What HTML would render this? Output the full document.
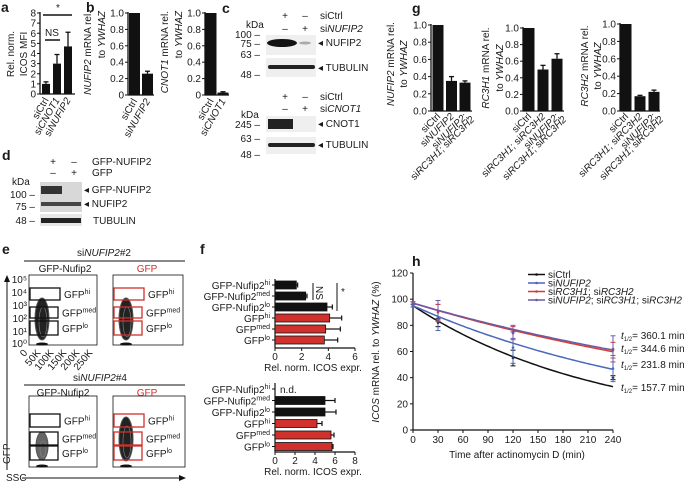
<!DOCTYPE html>
<html><head><meta charset="utf-8"><style>
html,body{margin:0;padding:0;background:#fff;width:684px;height:484px;overflow:hidden}
svg{font-family:"Liberation Sans",sans-serif;display:block}
text{font-size:10px;fill:#1a1a1a}
.pl{font-size:14px;font-weight:bold}
.r{fill:#d0312d}
</style></head><body>
<svg id="fig" width="684" height="484" viewBox="0 0 684 484" xmlns="http://www.w3.org/2000/svg">
<g id="static">
<text class="pl" x="1" y="12">a</text>
<text class="pl" x="86" y="12">b</text>
<text class="pl" x="222" y="13">c</text>
<text class="pl" x="2" y="160">d</text>
<text class="pl" x="2" y="254">e</text>
<text class="pl" x="200" y="254">f</text>
<text class="pl" x="412" y="13">g</text>
<text class="pl" x="412" y="266">h</text>

<g>
<text x="285" y="19" text-anchor="middle">+</text><text x="305" y="19" text-anchor="middle">–</text>
<text x="285" y="32" text-anchor="middle">–</text><text x="305" y="32" text-anchor="middle">+</text>
<text x="320" y="19">siCtrl</text><text x="320" y="32">si<tspan font-style="italic">NUFIP2</tspan></text>
<text x="246" y="28">kDa</text>
<text x="260" y="38" text-anchor="end">100 –</text><text x="260" y="47" text-anchor="end">75 –</text>
<text x="260" y="58" text-anchor="end">63 –</text><text x="260" y="78" text-anchor="end">48 –</text>
<rect x="266" y="35" width="50" height="20" fill="#efefef"/>
<ellipse cx="282" cy="43" rx="15" ry="4" fill="#111"/>
<ellipse cx="305" cy="43" rx="6" ry="1.5" fill="#aaa"/>
<rect x="266" y="58" width="50" height="19" fill="#efefef"/>
<rect x="268" y="65" width="47" height="4" rx="2" fill="#222"/>
<text x="318" y="46">◂ NUFIP2</text><text x="318" y="71">◂ TUBULIN</text>
</g>
<g>
<text x="285" y="100" text-anchor="middle">+</text><text x="305" y="100" text-anchor="middle">–</text>
<text x="285" y="112" text-anchor="middle">–</text><text x="305" y="112" text-anchor="middle">+</text>
<text x="320" y="100">siCtrl</text><text x="320" y="112">si<tspan font-style="italic">CNOT1</tspan></text>
<text x="241" y="118">kDa</text>
<text x="260" y="128" text-anchor="end">245 –</text><text x="260" y="142" text-anchor="end">63 –</text><text x="260" y="158" text-anchor="end">48 –</text>
<rect x="266" y="116" width="50" height="16" fill="#efefef"/>
<rect x="268" y="119" width="25" height="10" fill="#222"/>
<rect x="266" y="137" width="50" height="17" fill="#efefef"/>
<rect x="268" y="143" width="47" height="4" rx="2" fill="#222"/>
<text x="318" y="127">◂ CNOT1</text><text x="318" y="148">◂ TUBULIN</text>
</g>
<g>
<text x="53" y="165" text-anchor="middle">+</text><text x="74" y="165" text-anchor="middle">–</text>
<text x="53" y="176" text-anchor="middle">–</text><text x="74" y="176" text-anchor="middle">+</text>
<text x="92" y="165">GFP-NUFIP2</text><text x="92" y="176">GFP</text>
<text x="12" y="185">kDa</text>
<text x="35" y="198" text-anchor="end">100 –</text><text x="35" y="210" text-anchor="end">75 –</text><text x="35" y="224" text-anchor="end">48 –</text>
<rect x="40" y="182" width="42" height="30" fill="#d8d8d8"/>
<rect x="41" y="186" width="21" height="8" fill="#333"/>
<rect x="41" y="202" width="40" height="4" fill="#444"/>
<rect x="40" y="214" width="42" height="12" fill="#e6e6e6"/>
<rect x="41" y="218" width="40" height="5" fill="#222"/>
<text x="84" y="193">◂ GFP-NUFIP2</text><text x="84" y="207">◂ NUFIP2</text><text x="93" y="224">TUBULIN</text>
</g>

<g>
<text x="104" y="256" text-anchor="middle">si<tspan font-style="italic">NUFIP2</tspan>#2</text>
<line x1="24" y1="261" x2="185" y2="261" stroke="#111"/>
<text x="65" y="272" text-anchor="middle">GFP-Nufip2</text><text x="147" y="272" text-anchor="middle" class="r">GFP</text>
<text x="100" y="381" text-anchor="middle">si<tspan font-style="italic">NUFIP2</tspan>#4</text>
<line x1="24" y1="385" x2="185" y2="385" stroke="#111"/>
<text x="63" y="396" text-anchor="middle">GFP-Nufip2</text><text x="147" y="396" text-anchor="middle" class="r">GFP</text>
<line x1="7" y1="470" x2="7" y2="280" stroke="#111"/>
<path d="M4,282 L7,275 L10,282Z" fill="#111"/>
<line x1="22" y1="478" x2="180" y2="478" stroke="#111"/>
<path d="M179,475 L186,478 L179,481Z" fill="#111"/>
<text x="6" y="481">SSC</text>
<text transform="translate(10,464) rotate(-90)">GFP</text>
<text x="28" y="353" font-size="8.5" transform="rotate(-50,28,353)" text-anchor="end">0</text>
<text x="41" y="353" font-size="8.5" transform="rotate(-50,41,353)" text-anchor="end">50K</text>
<text x="54" y="353" font-size="8.5" transform="rotate(-50,54,353)" text-anchor="end">100K</text>
<text x="67" y="353" font-size="8.5" transform="rotate(-50,67,353)" text-anchor="end">150K</text>
<text x="80" y="353" font-size="8.5" transform="rotate(-50,80,353)" text-anchor="end">200K</text>
<text x="93" y="353" font-size="8.5" transform="rotate(-50,93,353)" text-anchor="end">250K</text>
<text x="27" y="283" font-size="8.5" text-anchor="end">10⁵</text>
<text x="27" y="296" font-size="8.5" text-anchor="end">10⁴</text>
<text x="27" y="309" font-size="8.5" text-anchor="end">10³</text>
<text x="27" y="322" font-size="8.5" text-anchor="end">10²</text>
<text x="27" y="335" font-size="8.5" text-anchor="end">10¹</text>
<text x="27" y="347" font-size="8.5" text-anchor="end">10⁰</text>
</g>
<g id="flowplots"></g>

<g>
<line x1="313" y1="283" x2="313" y2="300" stroke="#111"/>
<text transform="translate(316,286) rotate(90)" font-size="9">NS</text>
<line x1="337" y1="283" x2="337" y2="311" stroke="#111"/>
<text x="341" y="295" font-size="9">*</text>
<text x="280" y="393" font-size="10">n.d.</text>
</g>
<g id="charts"></g>
</g>
</svg>
<script>
const SVGNS="http://www.w3.org/2000/svg";
const charts=document.getElementById('charts');
function mk(tag,attrs,parent){const e=document.createElementNS(SVGNS,tag);for(const k in attrs)e.setAttribute(k,attrs[k]);(parent||charts).appendChild(e);return e;}
function txt(x,y,s,attrs,parent){const t=mk('text',Object.assign({x:x,y:y},attrs||{}),parent);t.innerHTML=s;return t;}

// ---------- data ----------
const aCats=['siCtrl','si<tspan font-style="italic">CNOT1</tspan>','si<tspan font-style="italic">NUFIP2</tspan>'];
const aVals=[1.0,3.0,4.7];
const aErr=[0.2,0.9,1.4];
const aTicks=[0,1,2,3,4,5,6,7,8];
const b1Cats=['siCtrl','si<tspan font-style="italic">NUFIP2</tspan>'];
const b1Vals=[1.0,0.26];
const b1Err=[0,0.03];
const b2Cats=['siCtrl','si<tspan font-style="italic">CNOT1</tspan>'];
const b2Vals=[1.0,0.03];
const b2Err=[0,0.01];
const bTicks=['0','0.2','0.4','0.6','0.8','1.0'];
const gTicks=['0.0','0.2','0.4','0.6','0.8','1.0'];
const g1Cats=['siCtrl','si<tspan font-style="italic">NUFIP2</tspan>','si<tspan font-style="italic">NUFIP2</tspan>;'];
const g1Vals=[1.0,0.35,0.33];
const g1Err=[0,0.05,0.02];
const g2Cats=['siCtrl','si<tspan font-style="italic">RC3H1</tspan>; si<tspan font-style="italic">RC3H2</tspan>','si<tspan font-style="italic">NUFIP2</tspan>;'];
const g2Vals=[1.0,0.50,0.63];
const g2Err=[0,0.05,0.06];
const g3Cats=['siCtrl','si<tspan font-style="italic">RC3H1</tspan>; si<tspan font-style="italic">RC3H2</tspan>','si<tspan font-style="italic">NUFIP2</tspan>;'];
const g3Vals=[1.0,0.17,0.22];
const g3Err=[0,0.01,0.02];
const fCats=['GFP-Nufip2<tspan dy="-4" font-size="7">hi</tspan>','GFP-Nufip2<tspan dy="-4" font-size="7">med</tspan>','GFP-Nufip2<tspan dy="-4" font-size="7">lo</tspan>','GFP<tspan dy="-4" font-size="7">hi</tspan>','GFP<tspan dy="-4" font-size="7">med</tspan>','GFP<tspan dy="-4" font-size="7">lo</tspan>'];
const f1Vals=[1.6,2.3,3.9,4.1,3.8,3.7];
const f1Err=[0.1,0.1,0.4,0.9,1.1,1.0];
const f2Vals=[null,5.0,5.0,4.2,5.6,5.7];
const f2Err=[0,1.0,1.1,0.5,0.3,0.1];
const hTimes=[0,30,120,240];
const hXTicks=[0,30,60,90,120,150,180,210,240];
const hYTicks=[0,20,40,60,80,100,120];
const hNames=['siCtrl','si<tspan font-style="italic">NUFIP2</tspan>','si<tspan font-style="italic">RC3H1</tspan>; si<tspan font-style="italic">RC3H2</tspan>','si<tspan font-style="italic">NUFIP2</tspan>; si<tspan font-style="italic">RC3H1</tspan>; si<tspan font-style="italic">RC3H2</tspan>'];
const hHalf=[157.7,231.8,344.6,360.1];
const hStart=[95,95,97,97];
const hMeanCtrl=[95,82,55,40];
const hErrCtrl=[1,3,6,1.5];
const hMeanNufip=[95,86,63,47];
const hErrNufip=[1,10,12,10];
const hMeanRc=[97,90,74,61];
const hErrRc=[1,6,5,6];
const hMeanTri=[97,91,75,62];
const hErrTri=[1,8,5,10];
const hColors=['#111','#4a67bd','#d63a34','#6a5aa6'];

// ---------- vertical bar chart ----------
function vbar(opt){
  const g=mk('g',{});
  
  
  const y=v=>opt.y0-(v-opt.min)/(opt.max-opt.min)*(opt.y0-opt.y1);
  mk('line',{x1:opt.ax,y1:opt.y1-1,x2:opt.ax,y2:opt.y0,stroke:'#111','stroke-width':1.3},g);
  mk('line',{x1:opt.ax,y1:opt.y0,x2:opt.xend,y2:opt.y0,stroke:'#111','stroke-width':1.3},g);
  opt.ticks.forEach((t,i)=>{
    const v=opt.min+i*(opt.max-opt.min)/(opt.ticks.length-1);
    mk('line',{x1:opt.ax-3,y1:y(v),x2:opt.ax,y2:y(v),stroke:'#111'},g);
    const tl=txt(opt.ax-4,y(v)+3.5,t,{'text-anchor':'end','font-size':10.5},g);
    
    
  });
  opt.vals.forEach((v,i)=>{
    const cx=opt.x0+i*opt.step;
    const r=mk('rect',{x:cx-opt.w/2,y:y(v),width:opt.w,height:opt.y0-y(v),fill:'#111'},g);
    
    
    if(opt.err[i]>0){
      mk('line',{x1:cx,y1:y(v),x2:cx,y2:y(v+opt.err[i]),stroke:'#111','stroke-width':1.3},g);
      mk('line',{x1:cx-2.5,y1:y(v+opt.err[i]),x2:cx+2.5,y2:y(v+opt.err[i]),stroke:'#111','stroke-width':1.3},g);
    }
    const lx=cx+3, ly=opt.y0+6;
    const t=txt(lx,ly,opt.cats[i],{'text-anchor':'end','font-size':10,transform:'rotate('+opt.rot+','+lx+','+ly+')'},g);
    
    
  });
  opt.ylab.forEach((s,i)=>{
    const t=txt(0,0,s,{'text-anchor':opt.top?'end':'middle',transform:'translate('+opt.ylx[i]+','+opt.yly+') rotate(-90)','font-size':10.5},g);
    
    
  });
  return g;
}
vbar({name:'chart-a',ax:40,y0:94,y1:13,min:0,max:8,ticks:aTicks.map(String),vals:aVals,err:aErr,cats:aCats,x0:46,step:11,w:8,xend:75,rot:-60,ylab:['Rel. norm.','ICOS MFI'],ylx:[14,27],yly:54});
vbar({name:'chart-b-nufip2',ax:128,y0:95,y1:13,min:0,max:1,ticks:bTicks,vals:b1Vals,err:b1Err,cats:b1Cats,x0:134.5,step:13,w:11,xend:154,rot:-60,top:true,ylab:['<tspan font-style="italic">NUFIP2</tspan> mRNA rel.','to <tspan font-style="italic">YWHAZ</tspan>'],ylx:[91,105],yly:11});
vbar({name:'chart-b-cnot1',ax:205,y0:95,y1:13,min:0,max:1,ticks:bTicks,vals:b2Vals,err:b2Err,cats:b2Cats,x0:211,step:12,w:11,xend:229,rot:-60,top:true,ylab:['<tspan font-style="italic">CNOT1</tspan> mRNA rel.','to <tspan font-style="italic">YWHAZ</tspan>'],ylx:[168,182],yly:11});
vbar({name:'chart-g-nufip2',ax:431,y0:111,y1:25,min:0,max:1,ticks:gTicks,vals:g1Vals,err:g1Err,cats:g1Cats,x0:438,step:13.5,w:11,xend:472,rot:-45,ylab:['<tspan font-style="italic">NUFIP2</tspan> mRNA rel.','to <tspan font-style="italic">YWHAZ</tspan>'],ylx:[394,407],yly:64});
vbar({name:'chart-g-rc3h1',ax:523,y0:111,y1:28,min:0,max:1,ticks:gTicks,vals:g2Vals,err:g2Err,cats:g2Cats,x0:529,step:14,w:11,xend:564,rot:-45,ylab:['<tspan font-style="italic">RC3H1</tspan> mRNA rel.','to <tspan font-style="italic">YWHAZ</tspan>'],ylx:[489,503],yly:68});
vbar({name:'chart-g-rc3h2',ax:620,y0:111,y1:24,min:0,max:1,ticks:gTicks,vals:g3Vals,err:g3Err,cats:g3Cats,x0:626,step:14,w:11,xend:660,rot:-45,ylab:['<tspan font-style="italic">RC3H2</tspan> mRNA rel.','to <tspan font-style="italic">YWHAZ</tspan>'],ylx:[588,601],yly:66});
[[465,'si<tspan font-style="italic">RC3H1</tspan>; si<tspan font-style="italic">RC3H2</tspan>'],[557,'si<tspan font-style="italic">RC3H1</tspan>; si<tspan font-style="italic">RC3H2</tspan>'],[654,'si<tspan font-style="italic">RC3H1</tspan>; si<tspan font-style="italic">RC3H2</tspan>']].forEach(p=>{
  const lx=p[0]+10, ly=120;
  const t=txt(lx,ly,p[1],{'text-anchor':'end','font-size':10,transform:'rotate(-45,'+lx+','+ly+')'});
  
  
});
mk('line',{x1:43,y1:15,x2:72,y2:15,stroke:'#111','stroke-width':1.5});
txt(58,11,'*',{'text-anchor':'middle'});
mk('line',{x1:45,y1:40,x2:60,y2:40,stroke:'#111','stroke-width':1.5});
txt(52,36,'NS',{'text-anchor':'middle','font-size':10.5});

// ---------- horizontal bar charts (f) ----------
function hbar(opt){
  const g=mk('g',{});
  
  
  const x=v=>opt.ax+v/opt.max*opt.len;
  mk('line',{x1:opt.ax,y1:opt.yTop,x2:opt.ax,y2:opt.yAxis,stroke:'#111','stroke-width':1.2},g);
  mk('line',{x1:opt.ax,y1:opt.yAxis,x2:opt.ax+opt.len,y2:opt.yAxis,stroke:'#111','stroke-width':1.2},g);
  opt.ticks.forEach(t=>{
    mk('line',{x1:x(t),y1:opt.yAxis,x2:x(t),y2:opt.yAxis+3,stroke:'#111'},g);
    const tl=txt(x(t),opt.yAxis+12,String(t),{'text-anchor':'middle','font-size':10.5},g);
    
    
  });
  const tt=txt(opt.ax+opt.len/2-2,opt.yAxis+23,'Rel. norm. ICOS expr.',{'text-anchor':'middle','font-size':10.5},g);
  
  
  opt.vals.forEach((v,i)=>{
    const cy=opt.y0+i*opt.step;
    const red=i>=3;
    mk('line',{x1:opt.ax-3,y1:cy,x2:opt.ax,y2:cy,stroke:'#111'},g);
    const lb=txt(opt.ax-5,cy+4,fCats[i],{'text-anchor':'end','font-size':11,fill:red?'#d0312d':'#1a1a1a'},g);
    
    
    if(v===null)return;
    const r=mk('rect',{x:opt.ax,y:cy-4,width:x(v)-opt.ax,height:8,fill:red?'#d0312d':'#111',stroke:'#111','stroke-width':0.8},g);
    
    
    mk('line',{x1:x(v),y1:cy,x2:x(v+opt.err[i]),y2:cy,stroke:'#111','stroke-width':1.2},g);
    mk('line',{x1:x(v+opt.err[i]),y1:cy-2.5,x2:x(v+opt.err[i]),y2:cy+2.5,stroke:'#111','stroke-width':1.2},g);
  });
}
hbar({name:'chart-f-top',ax:275,len:80,max:6,ticks:[0,2,4,6],vals:f1Vals,err:f1Err,y0:285,step:11,yTop:279,yAxis:348});
hbar({name:'chart-f-bottom',ax:275,len:80,max:8,ticks:[0,2,4,6,8],vals:f2Vals,err:f2Err,y0:389,step:11.5,yTop:383,yAxis:452});

// ---------- flow plots ----------
const flow=document.getElementById('flowplots');
function flowPlot(x0,y0,w,h,red,gates,blob,name){
  const g=mk('g',{},flow);
  
  
  const col=red?'#d0312d':'#111';
  mk('rect',{x:x0,y:y0,width:w,height:h,fill:'none',stroke:'#111','stroke-width':0.8},g);
  mk('ellipse',{cx:x0+blob[0],cy:y0+blob[1],rx:blob[2],ry:blob[3],fill:blob[4],stroke:'#555','stroke-width':1},g);
  mk('ellipse',{cx:x0+blob[0]+1,cy:y0+blob[1]+3,rx:blob[2]-3,ry:blob[3]-6,fill:'none',stroke:'#888','stroke-width':0.6},g);
  mk('ellipse',{cx:x0+13,cy:y0+h-1,rx:6,ry:1.5,fill:'#111'},g);
  const labels=['hi','med','lo'];
  gates.forEach((gt,i)=>{
    const r=mk('rect',{x:x0+1,y:y0+gt[0],width:gt[2],height:gt[1],fill:'none',stroke:col,'stroke-width':1.3},g);
    
    
    txt(x0+gt[2]+5,y0+gt[0]+gt[1]/2+4,'GFP<tspan dy="-4" font-size="7">'+labels[i]+'</tspan>',{'font-size':10.5,fill:col},g);
  });
}
flowPlot(29,275,68,70,false,[[13,12,30],[32,11,28],[46,14,28]],[13,44,7,21,'#222'],'flow-plot-nufip2-2');
flowPlot(113,275,70,70,true,[[13,12,30],[32,11,28],[46,14,28]],[13,44,7,21,'#222'],'flow-plot-gfp-2');
flowPlot(29,396,68,71,false,[[18,13,30],[36,13,28],[50,14,28]],[13,50,6,14,'#666'],'flow-plot-nufip2-4');
flowPlot(113,396,72,71,true,[[18,13,30],[36,13,28],[50,14,28]],[13,43,7,22,'#222'],'flow-plot-gfp-4');

// ---------- panel h line chart ----------
(function(){
  const g=mk('g',{});
  
  
  const X0=413,X1=613,Y0=430,Y1=273;
  const x=t=>X0+t/240*(X1-X0);
  const y=v=>Y0-v/120*(Y0-Y1);
  mk('line',{x1:X0,y1:Y1,x2:X0,y2:Y0,stroke:'#111','stroke-width':1.2},g);
  mk('line',{x1:X0,y1:Y0,x2:X1,y2:Y0,stroke:'#111','stroke-width':1.2},g);
  hYTicks.forEach(v=>{
    mk('line',{x1:X0-3,y1:y(v),x2:X0,y2:y(v),stroke:'#111'},g);
    const t=txt(X0-5,y(v)+3.5,String(v),{'text-anchor':'end','font-size':9.5},g);
    
    
  });
  hXTicks.forEach(v=>{
    mk('line',{x1:x(v),y1:Y0,x2:x(v),y2:Y0+3,stroke:'#111'},g);
    const t=txt(x(v),Y0+13,String(v),{'text-anchor':'middle','font-size':9.5},g);
    
    
  });
  const xt=txt(517,458,'Time after actinomycin D (min)',{'text-anchor':'middle','font-size':9.5},g);
  
  
  const yt=txt(0,0,'<tspan font-style="italic">ICOS</tspan> mRNA rel. to <tspan font-style="italic">YWHAZ</tspan> (%)',{'text-anchor':'middle','font-size':10,transform:'translate(379,352) rotate(-90)'},g);
  
  
  const means=[hMeanCtrl,hMeanNufip,hMeanRc,hMeanTri];
  const errs=[hErrCtrl,hErrNufip,hErrRc,hErrTri];
  const hlY=[391,368,352,339];
  [0,1,2,3].forEach(s=>{
    let d='';
    for(let t=0;t<=240;t+=4){const v=hStart[s]*Math.pow(2,-t/hHalf[s]);d+=(t?'L':'M')+x(t).toFixed(1)+','+y(v).toFixed(1);}
    const p=mk('path',{d:d,fill:'none',stroke:hColors[s],'stroke-width':1.5},g);
    
    
    hTimes.forEach((t,i)=>{
      const m=means[s][i],e=errs[s][i];
      mk('line',{x1:x(t),y1:y(m-e),x2:x(t),y2:y(m+e),stroke:hColors[s],'stroke-width':1},g);
      mk('line',{x1:x(t)-2.5,y1:y(m-e),x2:x(t)+2.5,y2:y(m-e),stroke:hColors[s]},g);
      mk('line',{x1:x(t)-2.5,y1:y(m+e),x2:x(t)+2.5,y2:y(m+e),stroke:hColors[s]},g);
      const c=mk('circle',{cx:x(t),cy:y(m),r:1.3,fill:hColors[s]},g);
      
      
    });
    const ly=278+s*8.5;
    mk('line',{x1:528,y1:ly-3.5,x2:545,y2:ly-3.5,stroke:hColors[s],'stroke-width':1.5},g);
    mk('circle',{cx:536.5,cy:ly-3.5,r:1.3,fill:hColors[s]},g);
    const lt=txt(548,ly,hNames[s],{'font-size':9},g);
    
    
    const ht=txt(621,hlY[s],'<tspan font-style="italic">t</tspan><tspan dy="2" font-size="6">1/2</tspan><tspan dy="-2">= '+hHalf[s].toFixed(1)+' min</tspan>',{'font-size':9.3,fill:hColors[s]},g);
    
    
  });
})();
</script>
</body></html>
